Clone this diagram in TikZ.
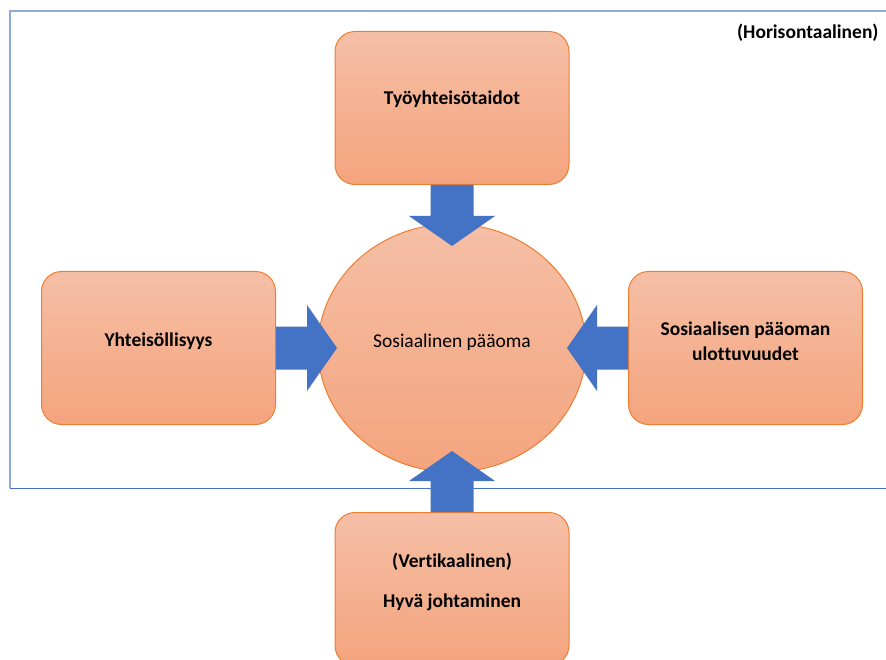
\documentclass[tikz,border=0pt]{standalone}
\usepackage{fontspec}
\setmainfont{Carlito}[Ligatures=NoCommon]
\usetikzlibrary{positioning, shapes.geometric}
\definecolor{boxtop}{HTML}{F5BFA6}
\definecolor{boxbottom}{HTML}{F4A47D}
\definecolor{boxline}{HTML}{ED7D31}
\definecolor{arrowblue}{HTML}{4472C4}
\definecolor{framelight}{HTML}{8EAADB}
\tikzset{
  themebox/.style = {draw=boxline, line width=1pt, rounded corners=20pt,
    top color=boxtop, bottom color=boxbottom,
    minimum width=234pt, minimum height=153pt, inner sep=0},
  hub/.style = {ellipse, draw=boxline, line width=1pt,
    top color=boxtop, bottom color=boxbottom,
    minimum width=268pt, minimum height=248pt, inner sep=0, outer sep=0},
  boxlabel/.style = {font=\fontsize{19.5}{24.5}\selectfont\bfseries, align=center},
  hublabel/.style = {font=\fontsize{19.5}{24.5}\selectfont},
  blockarrow/.pic = {
    \fill[arrowblue] (0,-21.5) -- (31,-21.5) -- (31,-43) -- (61,0)
      -- (31,43) -- (31,21.5) -- (0,21.5) -- cycle;
  },
}

\begin{document}
\begin{tikzpicture}[x=1pt, y=-1pt]
  \useasboundingbox (0,0) rectangle (886,660);
  \clip (0,0) rectangle (886,660);

  % frame of the horizontal part
  \draw [framelight, line width=1.5pt] (886,11) -- (10,11) -- (10,488);
  \draw [arrowblue, line width=0.8pt] (10,488) -- (886,488);

  \node (paaoma) [hub] at (452,348) {};
  \node (tyo) [themebox, above=39pt of paaoma] {};
  \node (yht) [themebox, left=42pt of paaoma] {};
  \node (ulo) [themebox, right=42pt of paaoma] {};
  \node (hyva) [themebox, below=40pt of paaoma] {};

  \node (paaomaText) [hublabel] at ([yshift=6pt]paaoma.center) {Sosiaalinen pääoma};
  \foreach \src/\dy/\t in {
    tyo/9/Työyhteisötaidot,
    yht/7/Yhteisöllisyys,
    ulo/7/{Sosiaalisen pääoman\\ulottuvuudet},
    hyva/7/{(Vertikaalinen)\\[16pt]Hyvä johtaminen}%
  }{
    \node (\src Text) [boxlabel] at ([yshift=\dy pt]\src.center) {\t};
  }
  \node (horis) [boxlabel, anchor=base east] at (882,39) {(Horisontaalinen)};

  % block arrows towards the hub
  \foreach \src/\side/\angle in {tyo/south/-90, yht/east/0, ulo/west/180, hyva/north/90}{
    \pic [rotate=\angle] at (\src.\side) {blockarrow};
  }
\end{tikzpicture}
\end{document}
